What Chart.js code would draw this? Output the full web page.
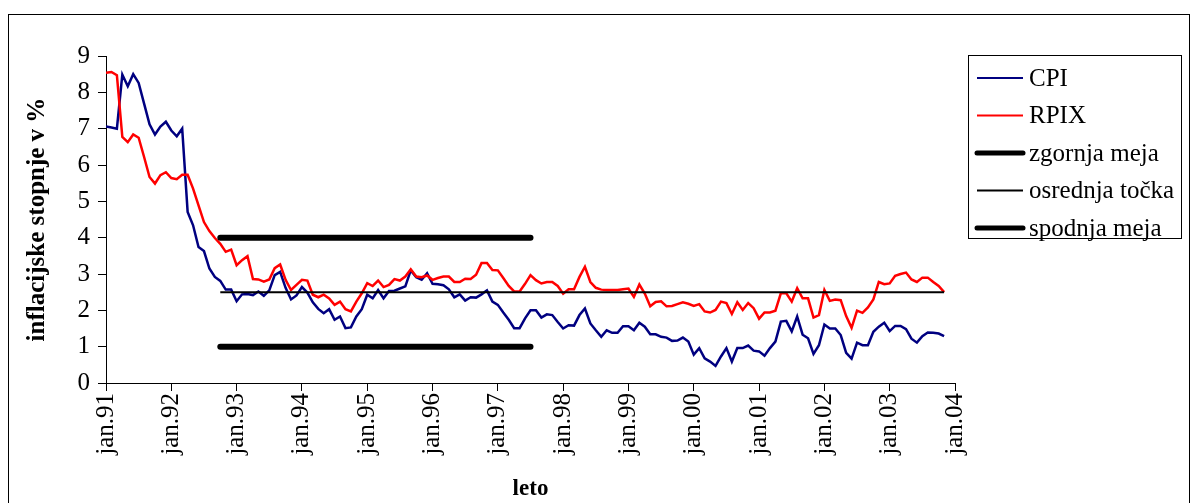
<!DOCTYPE html>
<html>
<head>
<meta charset="utf-8">
<script src="https://cdn.jsdelivr.net/npm/chart.js@4.4.1/dist/chart.umd.min.js"></script>
<style>
html,body{margin:0;padding:0;background:#fff;}
#wrap{position:relative;width:1198px;height:503px;}
</style>
</head>
<body>
<div id="wrap"><canvas id="c"></canvas></div>
<script>
// ---- data ----
const yearLabels = ['jan.91','jan.92','jan.93','jan.94','jan.95','jan.96','jan.97','jan.98','jan.99','jan.00','jan.01','jan.02','jan.03','jan.04'];
const yTicks = [0,1,2,3,4,5,6,7,8,9];
// monthly values, jan.91 .. nov.03
const cpi = [
7.06,7.03,7.00,8.49,8.17,8.50,8.26,7.69,7.12,6.84,7.06,7.19,
6.95,6.79,7.00,4.71,4.34,3.74,3.63,3.15,2.92,2.81,2.57,2.57,
2.25,2.44,2.45,2.42,2.52,2.40,2.55,2.97,3.06,2.62,2.30,2.41,
2.64,2.49,2.22,2.04,1.92,2.03,1.74,1.83,1.51,1.53,1.83,2.03,
2.43,2.33,2.56,2.33,2.53,2.54,2.60,2.66,3.10,2.91,2.84,3.02,
2.73,2.72,2.69,2.58,2.36,2.44,2.27,2.36,2.35,2.44,2.55,2.24,
2.15,1.94,1.74,1.51,1.51,1.78,2.00,2.00,1.80,1.89,1.87,1.68,
1.50,1.59,1.58,1.87,2.05,1.64,1.45,1.27,1.45,1.38,1.38,1.56,
1.56,1.45,1.66,1.55,1.34,1.34,1.27,1.25,1.16,1.17,1.25,1.14,
0.78,0.96,0.68,0.59,0.47,0.73,0.96,0.59,0.96,0.96,1.03,0.89,
0.87,0.75,0.96,1.14,1.69,1.71,1.42,1.83,1.33,1.23,0.80,1.04,
1.61,1.50,1.50,1.32,0.83,0.67,1.11,1.04,1.04,1.41,1.55,1.66,
1.43,1.57,1.57,1.48,1.22,1.11,1.29,1.39,1.38,1.36,1.29
];
const rpix = [
8.54,8.56,8.47,6.77,6.63,6.84,6.75,6.22,5.67,5.49,5.72,5.80,
5.64,5.61,5.73,5.73,5.35,4.89,4.43,4.18,3.99,3.83,3.61,3.67,
3.24,3.38,3.49,2.86,2.85,2.79,2.85,3.16,3.26,2.84,2.56,2.70,
2.84,2.82,2.43,2.36,2.43,2.33,2.15,2.24,2.03,1.97,2.24,2.47,
2.75,2.67,2.82,2.64,2.70,2.86,2.82,2.93,3.13,2.93,2.91,2.96,
2.84,2.89,2.93,2.93,2.78,2.78,2.87,2.86,2.98,3.30,3.30,3.11,
3.10,2.89,2.67,2.52,2.52,2.73,2.97,2.83,2.74,2.78,2.78,2.67,
2.46,2.58,2.58,2.92,3.20,2.78,2.62,2.57,2.56,2.56,2.56,2.58,
2.60,2.37,2.71,2.46,2.11,2.23,2.25,2.11,2.12,2.17,2.22,2.18,
2.12,2.17,1.97,1.94,2.01,2.24,2.20,1.90,2.22,2.01,2.20,2.06,
1.77,1.94,1.94,1.99,2.47,2.47,2.24,2.61,2.33,2.33,1.80,1.87,
2.56,2.26,2.30,2.28,1.84,1.52,1.99,1.93,2.08,2.30,2.78,2.72,
2.74,2.95,3.00,3.04,2.85,2.78,2.90,2.90,2.78,2.67,2.50
];
const upperBound = 4;      // zgornja meja
const midPoint = 2.5;      // osrednja točka
const lowerBound = 1;      // spodnja meja
const targetStart = 21;    // okt.92 (month index)
const rangeEnd = 78;       // jul.97
const targetEnd = 154;     // nov.03

// ---- build ----
const toPts = arr => arr.map((v,i)=>({x:i,y:v}));
const seg = (a,b,v) => [{x:a,y:v},{x:b,y:v}];

Chart.defaults.font.family = '"Liberation Serif","Times New Roman",serif';
Chart.defaults.color = '#000';

const legendPlugin = {
  id:'legendBox',
  afterDraw(chart){
    const ctx = chart.ctx;
    ctx.save();
    ctx.strokeStyle = '#000';
    ctx.lineWidth = 1;
    ctx.strokeRect(8.5,14.5,1181,520);
    ctx.strokeRect(968.5,55.5,213,183);
    ctx.font = '25px "Liberation Serif"';
    ctx.textBaseline = 'middle';
    ctx.textAlign = 'left';
    chart.data.datasets.forEach((d,idx)=>{
      const y = 78 + idx*37.5;
      ctx.beginPath();
      ctx.lineWidth = d.legendWidth;
      ctx.strokeStyle = d.borderColor;
      ctx.lineCap = d.borderCapStyle || 'butt';
      ctx.moveTo(977,y); ctx.lineTo(1023,y);
      ctx.stroke();
      ctx.fillStyle = '#000';
      ctx.fillText(d.label,1029,y+1);
    });
    ctx.restore();
  }
};

new Chart(document.getElementById('c'),{
  type:'line',
  data:{
    datasets:[
      {label:'CPI', data:toPts(cpi), borderColor:'#000080', borderWidth:2.5, legendWidth:2, pointRadius:0, order:3},
      {label:'RPIX', data:toPts(rpix), borderColor:'#ff0000', borderWidth:2.5, legendWidth:2, pointRadius:0, order:2},
      {label:'zgornja meja', data:seg(targetStart,rangeEnd,upperBound), borderColor:'#000', borderWidth:6, legendWidth:5, borderCapStyle:'round', pointRadius:0, order:1},
      {label:'osrednja točka', data:seg(targetStart,targetEnd,midPoint), borderColor:'#000', borderWidth:2, legendWidth:2, pointRadius:0, order:0},
      {label:'spodnja meja', data:seg(targetStart,rangeEnd,lowerBound), borderColor:'#000', borderWidth:6, legendWidth:5, borderCapStyle:'round', pointRadius:0, order:1}
    ]
  },
  options:{
    responsive:true,
    maintainAspectRatio:false,
    animation:false,
    layout:{padding:{left:0,right:243,top:56,bottom:0}},
    plugins:{legend:{display:false},tooltip:{enabled:false}},
    elements:{line:{tension:0}},
    scales:{
      x:{
        type:'linear', min:0, max:156,
        afterFit(s){ s.height = 120; },
        ticks:{stepSize:12, autoSkip:false, minRotation:90, maxRotation:90, padding:2,
          font:{size:25}, color:'#000',
          callback:(v)=> yearLabels[Math.round(v/12)]},
        afterBuildTicks(s){ s.ticks = yearLabels.map((l,i)=>({value:i*12})); },
        grid:{drawOnChartArea:false, drawTicks:true, tickLength:8, color:'#000', lineWidth:1},
        border:{display:true,color:'#000',width:1},
        title:{display:true,text:'leto',font:{size:23,weight:'bold'},padding:{top:0,bottom:0},color:'#000'}
      },
      y:{
        min:0, max:9,
        afterFit(s){ s.width = 106; },
        afterBuildTicks(s){ s.ticks = yTicks.map(v=>({value:v})); },
        ticks:{stepSize:1, padding:8, font:{size:25}, color:'#000'},
        grid:{drawOnChartArea:false, drawTicks:true, tickLength:8, color:'#000', lineWidth:1},
        border:{display:true,color:'#000',width:1},
        title:{display:true,text:'inflacijske stopnje v %',font:{size:25,weight:'bold'},padding:{top:23,bottom:0},color:'#000'}
      }
    }
  },
  plugins:[legendPlugin]
});
</script>
</body>
</html>
